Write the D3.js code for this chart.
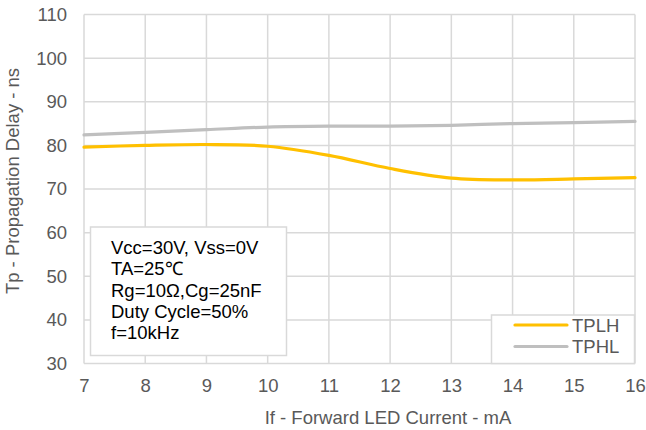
<!DOCTYPE html>
<html>
<head>
<meta charset="utf-8">
<script src="https://cdn.jsdelivr.net/npm/d3@7/dist/d3.min.js"></script>
<style>
  html, body { margin: 0; padding: 0; background: #fff; }
  svg { display: block; font-family: Arial, "Liberation Sans", sans-serif; }
</style>
</head>
<body>
<svg id="chart" width="646" height="430"></svg>
<script>
// Forward LED current (mA)
const currents = [7, 8, 9, 10, 11, 12, 13, 14, 15, 16];
// Propagation delay low-to-high (ns)
const tplh = [79.6, 80.0, 80.2, 79.8, 77.7, 74.7, 72.5, 72.1, 72.3, 72.6];
// Propagation delay high-to-low (ns)
const tphl = [82.4, 83.0, 83.6, 84.2, 84.4, 84.4, 84.6, 85.0, 85.2, 85.5];
const xTicks = [7, 8, 9, 10, 11, 12, 13, 14, 15, 16];
const yTicks = [30, 40, 50, 60, 70, 80, 90, 100, 110];
const seriesNames = ["TPLH", "TPHL"];
const seriesColors = ["#FFC000", "#BFBFBF"];
const conditions = [
  "Vcc=30V, Vss=0V",
  "TA=25\u2103",
  "Rg=10\u03A9,Cg=25nF",
  "Duty Cycle=50%",
  "f=10kHz"
];

const svg = d3.select("#chart");
const plotL = 84, plotR = 635, plotT = 14.5, plotB = 363.5;
const fs = "18.5px";

const x = d3.scaleLinear().domain([7, 16]).range([plotL, plotR]);
const y = d3.scaleLinear().domain([30, 110]).range([plotB, plotT]);

const grid = "#D9D9D9";
const tickColor = "#595959";

// grid lines
svg.append("g").selectAll("line").data(yTicks).join("line")
  .attr("x1", plotL).attr("x2", plotR)
  .attr("y1", d => y(d)).attr("y2", d => y(d))
  .attr("stroke", grid).attr("stroke-width", 1.5);
svg.append("g").selectAll("line").data(xTicks).join("line")
  .attr("x1", d => x(d)).attr("x2", d => x(d))
  .attr("y1", plotT).attr("y2", plotB)
  .attr("stroke", grid).attr("stroke-width", 1.5);

// axes (labels only)
const yAxis = svg.append("g").attr("transform", `translate(${plotL},0)`)
  .call(d3.axisLeft(y).tickValues(yTicks).tickSize(0).tickPadding(17));
const xAxis = svg.append("g").attr("transform", `translate(0,${plotB})`)
  .call(d3.axisBottom(x).tickValues(xTicks).tickSize(0).tickPadding(15));
[yAxis, xAxis].forEach(a => {
  a.select(".domain").remove();
  a.selectAll("text").attr("fill", tickColor)
    .style("font-size", fs).style("font-family", "Arial, 'Liberation Sans', sans-serif");
});

// series lines
const line = d3.line().x((d, i) => x(currents[i])).y(d => y(d))
  .curve(d3.curveCatmullRom.alpha(0.5));
[tplh, tphl].forEach((s, k) => {
  svg.append("path").datum(s)
    .attr("d", line)
    .attr("fill", "none")
    .attr("stroke", seriesColors[k])
    .attr("stroke-width", 3.2)
    .attr("stroke-linecap", "round");
});

// conditions box
svg.append("rect")
  .attr("x", 90.5).attr("y", 227).attr("width", 196).attr("height", 128.5)
  .attr("fill", "#fff").attr("stroke", grid).attr("stroke-width", 1.5);
svg.append("g").selectAll("text").data(conditions).join("text")
  .attr("x", 111).attr("y", (d, i) => 254 + i * 21.3)
  .attr("fill", "#000")
  .style("font-size", fs)
  .text(d => d);

// legend
svg.append("rect")
  .attr("x", 491.5).attr("y", 315).attr("width", 143).attr("height", 48.5)
  .attr("fill", "#fff").attr("stroke", grid).attr("stroke-width", 1.5);
const lg = svg.append("g").selectAll("g").data(seriesNames).join("g")
  .attr("transform", (d, i) => `translate(0,${325 + i * 21.5})`);
lg.append("line").attr("x1", 515).attr("x2", 567).attr("y1", 0).attr("y2", 0)
  .attr("stroke", (d, i) => seriesColors[i]).attr("stroke-width", 3.2)
  .attr("stroke-linecap", "round");
lg.append("text").attr("x", 572).attr("y", 6.5)
  .attr("fill", tickColor).style("font-size", fs).text(d => d);

// axis titles
svg.append("text")
  .attr("transform", "translate(19,181) rotate(-90)")
  .attr("text-anchor", "middle")
  .attr("fill", tickColor).style("font-size", fs)
  .text("Tp - Propagation Delay - ns");
svg.append("text")
  .attr("x", 388).attr("y", 424)
  .attr("text-anchor", "middle")
  .attr("fill", tickColor).style("font-size", fs)
  .text("If - Forward LED Current - mA");
</script>
</body>
</html>
